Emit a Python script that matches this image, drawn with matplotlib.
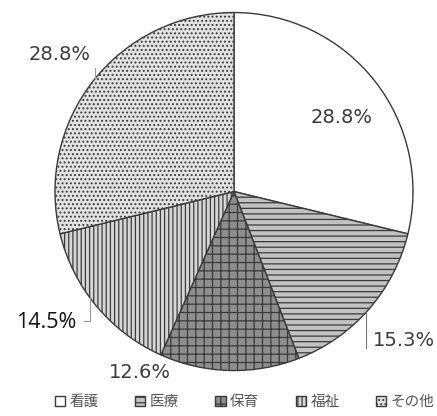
import matplotlib
matplotlib.use("Agg")
import matplotlib.pyplot as plt
import numpy as np

plt.rcParams['font.family'] = ['Noto Sans CJK JP', 'DejaVu Sans']
plt.rcParams['hatch.linewidth'] = 0.9

categories = ["看護", "医療", "保育", "福祉", "その他"]
shares = [28.8, 15.3, 12.6, 14.5, 28.8]
pct_labels = ["28.8%", "15.3%", "12.6%", "14.5%", "28.8%"]

face_colors = ["#ffffff", "#c2c2c2", "#8e8e8e", "#d6d6d6", "#e2e2e2"]
hatches = [None, "---", "++", "||||", "...."]

fig = plt.figure(figsize=(4.37, 4.16), dpi=100)
ax = fig.add_axes([0, 0, 1, 1])

wedges, _ = ax.pie(shares, startangle=90, counterclock=False, radius=1.0,
                   colors=face_colors,
                   wedgeprops=dict(edgecolor="#3a3a3a", linewidth=1.0))
for w, h in zip(wedges, hatches):
    if h:
        w.set_hatch(h)

ax.set_xlim(-1.307, 1.134)
ax.set_ylim(-1.254, 1.070)
ax.set_aspect("equal")
ax.axis("off")

# label placement: (radius, angle shift from wedge middle)
label_pos = [(0.73, -3.5), (1.26, 0.0), (1.14, -26.0), (1.28, -5.0), (1.24, 0.0)]
label_style = [dict(color="#3c3c3c", family=["DejaVu Sans"], fontsize=14),
               dict(color="#3c3c3c", family=["DejaVu Sans"], fontsize=14),
               dict(color="#3c3c3c", family=["DejaVu Sans"], fontsize=14),
               dict(color="#111111", family=["Open Sans"], fontsize=15.5),
               dict(color="#3c3c3c", family=["DejaVu Sans"], fontsize=14)]

for w, txt, (r, shift), st in zip(wedges, pct_labels, label_pos, label_style):
    mid = np.deg2rad((w.theta1 + w.theta2) / 2 + shift)
    x, y = r * np.cos(mid), r * np.sin(mid)
    ax.text(x, y, txt, ha="center", va="center", **st)

# leader ticks for the outside labels
def edge_point(ang_deg):
    a = np.deg2rad(ang_deg)
    return np.cos(a), np.sin(a)

w15 = wedges[1]
a15 = (w15.theta1 + w15.theta2) / 2 - 1.3
ex, ey = edge_point(a15)
ax.plot([ex, ex], [ey, ey - 0.2], color="#777777", lw=0.8)

w14 = wedges[3]
a14 = (w14.theta1 + w14.theta2) / 2 - 3.2
ex, ey = edge_point(a14)
ax.plot([ex, ex, ex - 0.035], [ey, ey - 0.13, ey - 0.13], color="#999999", lw=0.8)

w28 = wedges[4]
a28 = (w28.theta1 + w28.theta2) / 2 - 1
ex, ey = edge_point(a28)
ax.plot([ex, ex], [ey, ey + 0.06], color="#999999", lw=0.8)

fig.legend(wedges, categories, loc="lower center", bbox_to_anchor=(0.56, -0.015),
           ncol=5, frameon=False, fontsize=10.5, labelcolor="#555555",
           handlelength=0.7, handleheight=0.7, handletextpad=0.3,
           columnspacing=2.5)

fig.savefig("out.png", dpi=100)
